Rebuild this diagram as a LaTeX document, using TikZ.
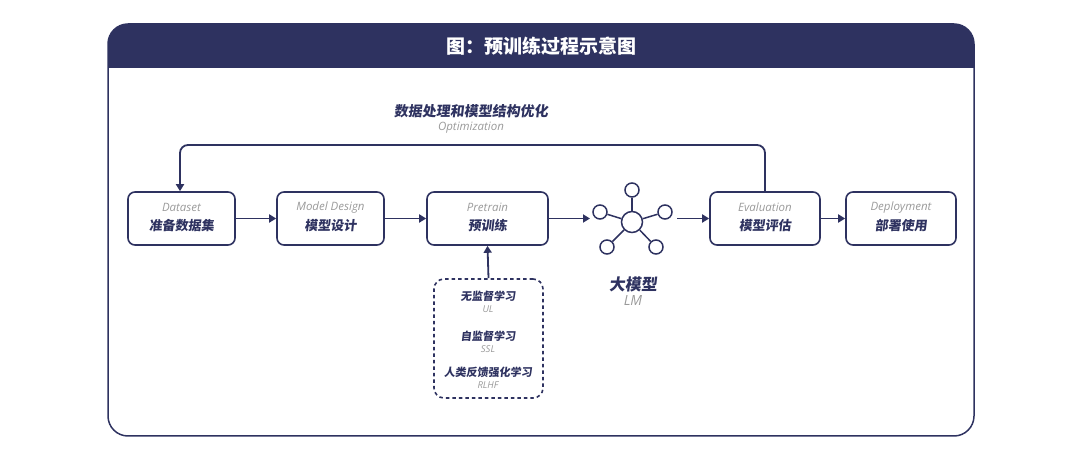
\documentclass[tikz,border=0pt]{standalone}
\usepackage{fontspec}
\setmainfont{Open Sans}
\newfontfamily\cjk[FakeSlant=0.12]{Noto Sans CJK SC}
\newfontfamily\cjkb[FakeSlant=0]{Noto Sans CJK SC}
\usetikzlibrary{arrows.meta}
\definecolor{navy}{HTML}{2E3260}
\definecolor{gr}{HTML}{9A9A9A}
\begin{document}
\begin{tikzpicture}[x=1pt,y=-1pt,
  box/.style={draw=navy,line width=1.6pt,rounded corners=7pt,minimum height=53pt,inner sep=0pt},
  arr/.style={draw=navy,line width=1.8pt,-{Triangle[length=7pt,width=8pt]}},
  cn/.style={font=\cjk\bfseries\fontsize{13}{14}\selectfont,text=navy},
  en/.style={font=\itshape\fontsize{11.5}{12}\selectfont,text=gr},
  sat/.style={circle,draw=navy,line width=1.5pt,fill=white,inner sep=0pt,minimum size=14pt}]
\useasboundingbox (0,0) rectangle (1080,454);
\draw[navy,line width=1.5pt,rounded corners=20pt] (108,24) rectangle (974,436);
\fill[navy,rounded corners=20pt] (108,24) rectangle (974,68);
\fill[navy] (108,50) rectangle (974,68);
\node[font=\cjkb\bfseries\fontsize{19}{20}\selectfont,text=white] (title) at (541,46) {图：预训练过程示意图};
% boxes
\node[box,minimum width=107pt] (d) at (181.5,218.5) {};
\node[box,minimum width=107pt] (m) at (330.5,218.5) {};
\node[box,minimum width=121pt] (p) at (487.5,218.5) {};
\node[box,minimum width=110pt] (e) at (765,218.5) {};
\node[box,minimum width=110pt] (u) at (901,218.5) {};
\foreach \n/\c/\e in {d/准备数据集/Dataset,m/模型设计/Model Design,p/预训练/Pretrain,e/模型评估/Evaluation,u/部署使用/Deployment}{
  \node[cn] (\n c) at ([yshift=-7pt]\n.center) {\c};
  \node[en] (\n e) at ([yshift=11pt]\n.center) {\e};
}
% LM icon
\node[circle,draw=navy,line width=1.5pt,inner sep=0pt,minimum size=21pt] (lm) at (632,222) {};
\foreach \i/\x/\y in {1/632/190,2/600/212,3/665/212,4/607/247,5/656/247}{
  \node[sat] (s\i) at (\x,\y) {};
  \draw[navy,line width=1.5pt] (lm) -- (s\i);
}
\node[font=\cjk\bfseries\fontsize{16}{17}\selectfont,text=navy] (lmc) at (633,284) {大模型};
\node[en,font=\itshape\fontsize{14}{14}\selectfont] (lme) at (633,301) {LM};
% arrows
\draw[arr] (d) -- (m);
\draw[arr] (m) -- (p);
\coordinate (lmin) at (590,218.5);
\coordinate (lmout) at (677,218.5);
\draw[arr] (p) -- (lmin);
\draw[arr] (lmout) -- (e);
\draw[arr] (e) -- (u);
% feedback
\draw[arr,rounded corners=8pt] (e.north) -- (765,145) -- (180,145) -- (d.north -| 180,0);
\node[cn,font=\cjk\bfseries\fontsize{14}{15}\selectfont] (fbc) at (471,111) {数据处理和模型结构优化};
\node[en] (fbe) at (471,128) {Optimization};
% dashed box
\node[draw=navy,line width=1.6pt,dash pattern=on 3.5pt off 3pt,rounded corners=10pt,minimum width=109pt,minimum height=119pt] (ds) at (488.5,338.5) {};
\draw[arr] (ds.north) -- (p.south);
\foreach \y/\c/\e/\k in {296/无监督学习/UL/a,336/自监督学习/SSL/b,372/人类反馈强化学习/RLHF/c}{
  \node[cn,font=\cjk\bfseries\fontsize{11}{12}\selectfont] (l\k) at (488,\y) {\c};
  \node[en,font=\itshape\fontsize{9.5}{10}\selectfont] (m\k) at (488,\y+13) {\e};
}
\end{tikzpicture}
\end{document}
